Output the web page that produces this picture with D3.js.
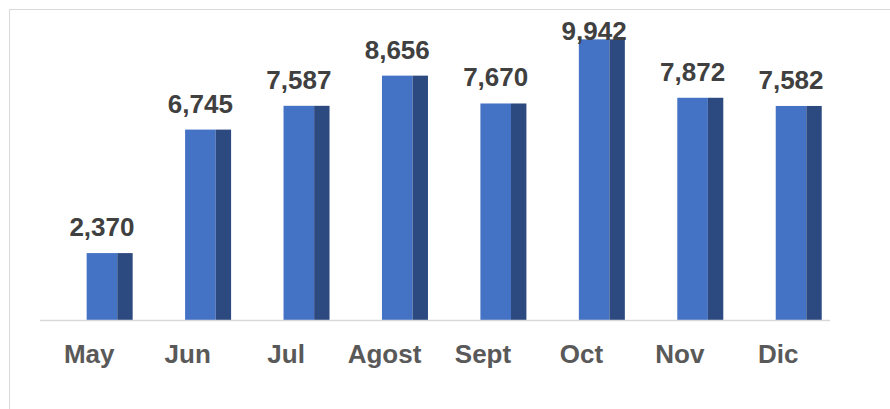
<!DOCTYPE html>
<html><head><meta charset="utf-8">
<script src="https://cdn.jsdelivr.net/npm/d3@7"></script>
<style>html,body{margin:0;padding:0;background:#fff;}svg{display:block;}</style>
</head><body>
<svg id="chart" width="890" height="409"></svg>
<script>
const categories = ["May","Jun","Jul","Agost","Sept","Oct","Nov","Dic"];
const values = [2370, 6745, 7587, 8656, 7670, 9942, 7872, 7582];

const svg = d3.select("#chart");
const W = 890, H = 409;
const baseY = 320;

// outer border
svg.append("rect").attr("x", 9.5).attr("y", 9.5).attr("width", 900).attr("height", 500)
  .attr("fill", "#fff").attr("stroke", "#d9d9d9").attr("stroke-width", 1);

const x = d3.scaleBand().domain(categories).range([40, 827.5]).padding(0);
const y = d3.scaleLinear().domain([0, 10000]).range([baseY, 37.7]);
const bw = x.bandwidth();
const frontW = 30.6, sideW = 15.4;

const g = svg.append("g");
const bars = g.selectAll("g.bar").data(categories.map((c,i)=>({c, v: values[i]}))).enter().append("g");
bars.append("rect")
  .attr("x", d => x(d.c) + bw*0.474)
  .attr("y", d => y(d.v))
  .attr("width", frontW)
  .attr("height", d => baseY - y(d.v))
  .attr("fill", "#4472c4");
bars.append("rect")
  .attr("x", d => x(d.c) + bw*0.474 + frontW)
  .attr("y", d => y(d.v))
  .attr("width", sideW)
  .attr("height", d => baseY - y(d.v))
  .attr("fill", "#2c4a80");

// baseline
svg.append("line").attr("x1", 40).attr("x2", 830).attr("y1", baseY + 0.5).attr("y2", baseY + 0.5)
  .attr("stroke", "#d9d9d9").attr("stroke-width", 1.5);

// value labels
const fmt = d3.format(",");
bars.append("text")
  .attr("x", d => x(d.c) + bw*0.474 + frontW/2)
  .attr("y", d => Math.max(y(d.v) - 17, 39.5))
  .attr("text-anchor", "middle")
  .attr("font-family", "Liberation Sans, Arial, sans-serif")
  .attr("font-weight", "bold")
  .attr("font-size", 26)
  .attr("fill", "#404040")
  .text(d => fmt(d.v));

// category axis
const axis = d3.axisBottom(x).tickSize(0).tickPadding(0);
const ag = svg.append("g").attr("transform", `translate(0, ${baseY})`).call(axis);
ag.select(".domain").remove();
ag.selectAll("text")
  .attr("y", 42.7).attr("dy", 0)
  .attr("font-family", "Liberation Sans, Arial, sans-serif")
  .attr("font-weight", "bold")
  .attr("font-size", 26)
  .attr("fill", "#595959");
</script>
</body></html>
